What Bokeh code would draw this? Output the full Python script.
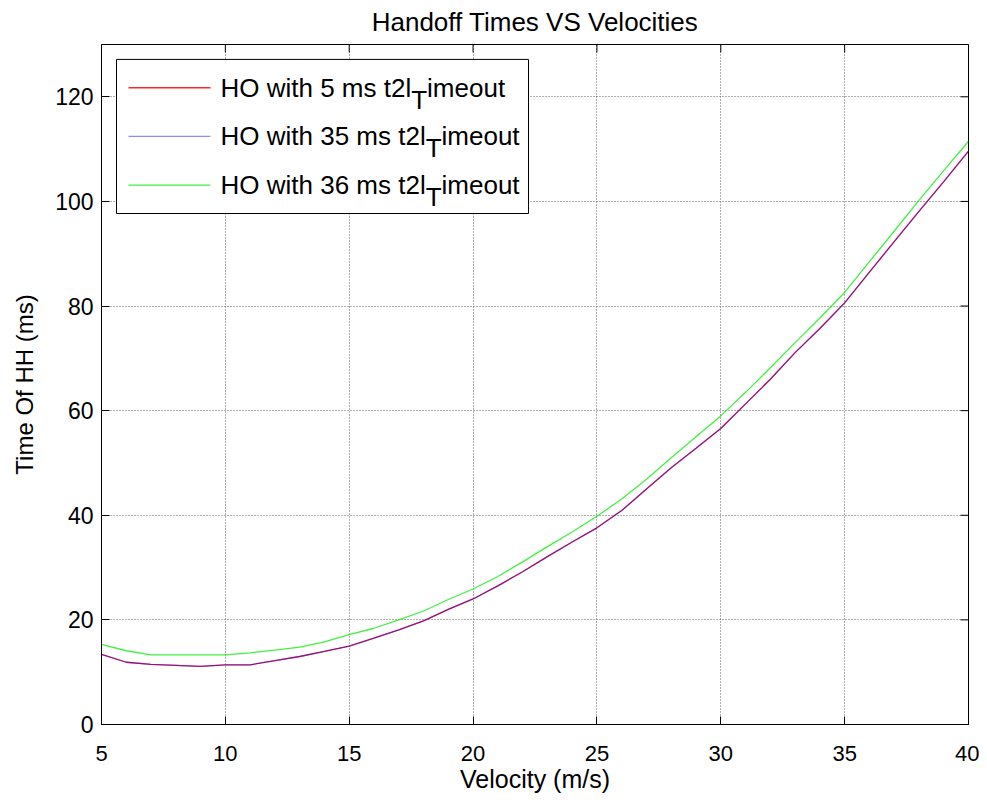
from bokeh.plotting import figure
from bokeh.models import Range1d, FixedTicker
from bokeh.core.properties import value
from bokeh.embed import file_html
from bokeh.resources import INLINE

# ---------------- data ----------------
velocity = [5, 6, 7, 8, 9, 10, 11, 12, 13, 14, 15, 16, 17, 18, 19, 20, 21, 22,
            23, 24, 25, 26, 27, 28, 29, 30, 31, 32, 33, 34, 35, 36, 37, 38, 39, 40]

ho_5ms = [13.4, 11.9, 11.5, 11.3, 11.1, 11.4, 11.4, 12.2, 13.0, 14.0, 15.0, 16.5,
          18.1, 19.8, 22.0, 24.0, 26.5, 29.2, 32.1, 34.9, 37.6, 40.9, 45.0, 49.1,
          52.8, 56.6, 61.3, 66.0, 71.1, 75.7, 80.6, 86.5, 92.3, 98.1, 103.8, 109.6]

ho_35ms = [13.4, 11.9, 11.5, 11.3, 11.1, 11.4, 11.4, 12.2, 13.0, 14.0, 15.0, 16.5,
           18.1, 19.8, 22.0, 24.0, 26.5, 29.2, 32.1, 34.9, 37.6, 40.9, 45.0, 49.1,
           52.8, 56.6, 61.3, 66.0, 71.1, 75.7, 80.6, 86.5, 92.3, 98.1, 103.8, 109.6]

ho_36ms = [15.3, 14.1, 13.3, 13.3, 13.3, 13.3, 13.7, 14.2, 14.8, 15.8, 17.2, 18.4,
           20.0, 21.7, 23.9, 25.9, 28.3, 31.1, 34.0, 36.8, 39.8, 43.1, 46.9, 51.0,
           55.0, 59.0, 63.5, 68.2, 73.0, 77.7, 82.6, 88.5, 94.3, 100.2, 105.9, 111.5]

x_ticks = [5, 10, 15, 20, 25, 30, 35, 40]
y_ticks = [0, 20, 40, 60, 80, 100, 120]

legend_prefix = ["HO with 5 ms t2l", "HO with 35 ms t2l", "HO with 36 ms t2l"]
legend_sub = "T"
legend_suffix = "imeout"

title_text = "Handoff Times VS Velocities"
x_label = "Velocity (m/s)"
y_label = "Time Of HH (ms)"

# ---------------- layout / style ----------------
FONT = "Liberation Sans"
X0, X1 = 5, 40
Y0, Y1 = 0, 130
B_LEFT, B_RIGHT, B_TOP, B_BOTTOM = 101, 11, 44, 67
FIG_W, FIG_H = 979, 795
FRAME_W = FIG_W - B_LEFT - B_RIGHT
FRAME_H = FIG_H - B_TOP - B_BOTTOM
TICK_PX = 8

p = figure(width=FIG_W, height=FIG_H,
           x_range=Range1d(X0, X1), y_range=Range1d(Y0, Y1),
           output_backend="svg", toolbar_location=None,
           title=title_text, x_axis_label=x_label, y_axis_label=y_label,
           min_border_left=B_LEFT, min_border_right=B_RIGHT,
           min_border_top=B_TOP, min_border_bottom=B_BOTTOM)

p.title.align = "center"
p.title.vertical_align = "top"
p.title.text_font = FONT
p.title.text_font_size = "26px"
p.title.text_font_style = "normal"
p.title.text_color = "black"
p.title.standoff = 12
p.title.offset = 0
p.background_fill_color = "white"
p.border_fill_color = "white"
p.outline_line_color = "black"
p.outline_line_width = 1

for ax, ticks in ((p.xaxis[0], x_ticks), (p.yaxis[0], y_ticks)):
    ax.ticker = FixedTicker(ticks=ticks)
    ax.major_tick_in = TICK_PX
    ax.major_tick_out = 0
    ax.minor_tick_in = 0
    ax.minor_tick_out = 0
    ax.axis_line_color = "black"
    ax.major_tick_line_color = "black"
    ax.major_label_text_font = FONT
    ax.major_label_text_color = "black"
    ax.axis_label_text_font = FONT
    ax.axis_label_text_font_style = "normal"
    ax.axis_label_text_color = "black"

p.xaxis.major_label_text_font_size = "22px"
p.xaxis.axis_label_text_font_size = "25px"
p.xaxis.major_label_standoff = 21
p.xaxis.axis_label_standoff = 1
p.yaxis.major_label_text_font_size = "23px"
p.yaxis.axis_label_text_font_size = "24px"
p.yaxis.major_label_standoff = 8
p.yaxis.axis_label_standoff = 14

p.xgrid.ticker = FixedTicker(ticks=x_ticks)
p.ygrid.ticker = FixedTicker(ticks=y_ticks)
p.grid.grid_line_color = "#606060"
p.grid.grid_line_dash = "1 2"
p.grid.grid_line_width = 1


def dx(px):
    """frame pixels from the left edge -> data x"""
    return X0 + px * (X1 - X0) / FRAME_W


def dy(px_from_top):
    """frame pixels from the top edge -> data y"""
    return Y1 - px_from_top * (Y1 - Y0) / FRAME_H


# inner tick marks on the top and right edges (MATLAB box style)
tick_dy = TICK_PX * (Y1 - Y0) / FRAME_H
tick_dx = TICK_PX * (X1 - X0) / FRAME_W
p.segment(x0=x_ticks, y0=[Y1] * len(x_ticks), x1=x_ticks, y1=[Y1 - tick_dy] * len(x_ticks),
          line_color="black", line_width=1)
p.segment(x0=[X1] * len(y_ticks), y0=y_ticks, x1=[X1 - tick_dx] * len(y_ticks), y1=y_ticks,
          line_color="black", line_width=1)

# ---------------- series ----------------
SERIES = [(ho_5ms, "#ff0000", 0.85), (ho_35ms, "#0000ff", 0.45), (ho_36ms, "#00ee00", 0.75)]
for ys, col, alpha in SERIES:
    p.line(velocity, ys, line_color=col, line_alpha=alpha, line_width=1.3)

# ---------------- legend (drawn by hand so that the "T" can be subscripted) ----------------
LEG_FS = 26
MARGIN, PAD, SPACING, GW, GH, STAND = 15, 12, 16, 82, 33, 10
BOX_W = 412
BOX_H = 2 * PAD + 3 * GH + 2 * SPACING

p.quad(left=[dx(MARGIN)], right=[dx(MARGIN + BOX_W)],
       top=[dy(MARGIN)], bottom=[dy(MARGIN + BOX_H)],
       fill_color="white", line_color="black", line_width=1)

# Arial / Liberation Sans advance widths (em units) to place the subscripted "T"
ADV = {" ": 0.278, "H": 0.722, "O": 0.778, "w": 0.722, "i": 0.222, "t": 0.278,
       "h": 0.556, "m": 0.833, "s": 0.5, "l": 0.222, "T": 0.611, "e": 0.556,
       "o": 0.556, "u": 0.556}
for d in "0123456789":
    ADV[d] = 0.556


def text_w(s):
    return sum(ADV.get(c, 0.556) for c in s) * LEG_FS


text_x0 = MARGIN + PAD + GW + STAND
row_cy = [MARGIN + PAD + GH / 2 + i * (GH + SPACING) for i in range(len(legend_prefix))]

for (ys, col, alpha), cy in zip(SERIES, row_cy):
    p.line([dx(MARGIN + PAD), dx(MARGIN + PAD + GW)], [dy(cy), dy(cy)],
           line_color=col, line_alpha=alpha, line_width=1.3)

txt_style = dict(text_font=value(FONT), text_font_size=value(f"{LEG_FS}px"),
                 text_baseline="middle", text_align="left", text_color="black")
p.text(x=[dx(text_x0)] * 3, y=[dy(cy) for cy in row_cy], text=legend_prefix, **txt_style)
p.text(x=[dx(text_x0 + text_w(s)) for s in legend_prefix],
       y=[dy(cy + 12) for cy in row_cy], text=[legend_sub] * 3, **txt_style)
p.text(x=[dx(text_x0 + text_w(s) + text_w(legend_sub)) for s in legend_prefix],
       y=[dy(cy) for cy in row_cy], text=[legend_suffix] * 3, **txt_style)

open("out.html", "w").write(file_html(p, INLINE))
